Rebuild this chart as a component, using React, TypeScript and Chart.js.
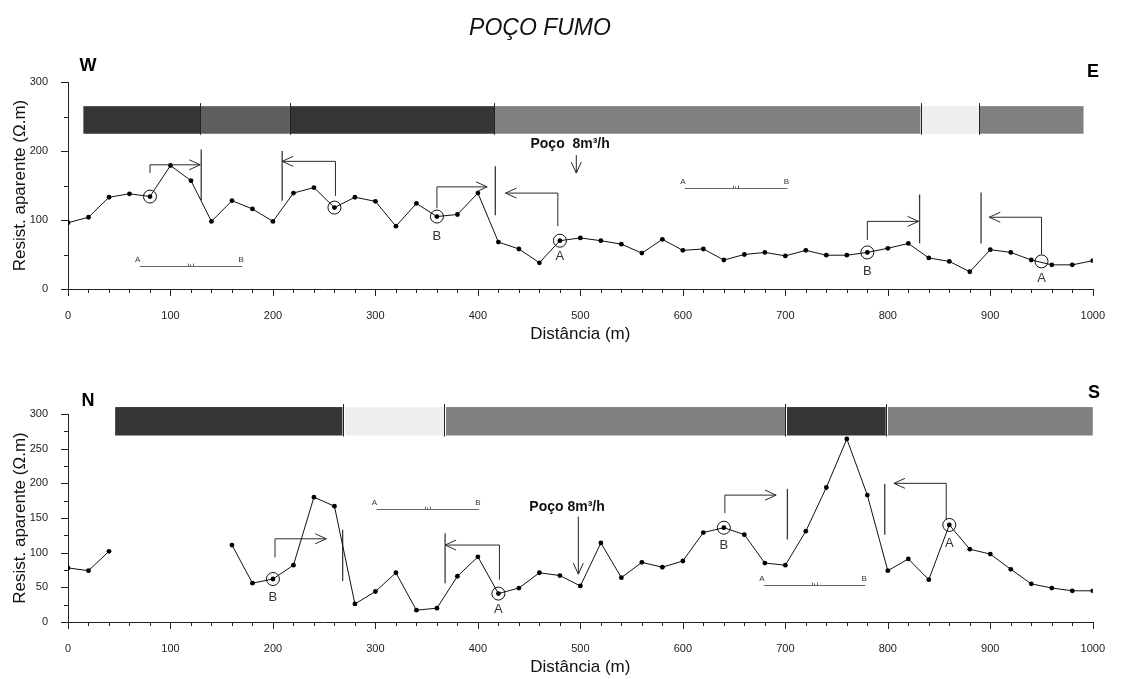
import React, { useEffect, useRef } from 'react';
import { Chart, registerables } from 'chart.js';
Chart.register(...registerables);

// ---------- data ----------
const distances = [0, 20, 40, 60, 80, 100, 120, 140, 160, 180, 200, 220, 240, 260, 280, 300, 320, 340, 360, 380, 400, 420, 440, 460, 480, 500, 520, 540, 560, 580, 600, 620, 640, 660, 680, 700, 720, 740, 760, 780, 800, 820, 840, 860, 880, 900, 920, 940, 960, 980, 1000];

const weResist = [96, 104, 133, 138, 134, 179, 157, 98, 128, 116, 98, 139, 147, 118, 133, 127, 91, 124, 105, 108, 139, 68, 58, 38, 70, 74, 70, 65, 52, 72, 56, 58, 42, 50, 53, 48, 56, 49, 49, 53, 59, 66, 45, 40, 25, 57, 53, 42, 35, 35, 41];
const nsResist = [78, 74, 102, null, null, null, null, null, 111, 56, 62, 82, 180, 167, 26, 44, 71, 17, 20, 66, 94, 41, 49, 71, 67, 52, 114, 64, 86, 79, 88, 129, 136, 126, 85, 82, 131, 194, 264, 183, 74, 91, 61, 140, 105, 98, 76, 55, 49, 45, 45];

// W–E profile annotations (metres / ohm.m)
const weGeoBreaks = [15, 129, 217, 416, 832, 889, 991];
const weGeoUnits = ['dark', 'mid', 'dark', 'gray', 'light', 'gray'];
const weCircleX = [80, 260, 360, 480, 780, 950];
const weCircleY = [134, 118, 105, 70, 53, 40];
const weLetters = ['B', 'A', 'B', 'A'];
const weLetterX = [360, 480, 780, 950];
const weLetterY = [76, 47, 25, 16];
const weArrowFrom = [80, 261, 360, 478, 780, 950];
const weArrowBase = [168, 135, 117, 91, 71, 50];
const weArrowLevel = [180, 185, 148, 139, 98, 104];
const weArrowTo = [129, 209, 409, 427, 830, 899];
const weFaultX = [130, 209, 417, 831, 891];
const weFaultLow = [129, 128, 107, 66, 66];
const weFaultHigh = [202, 200, 178, 137, 140];
const weScaleStart = [70, 602];
const weScaleEnd = [170, 702];
const weScaleY = [34, 147];

// N–S profile annotations
const nsGeoBreaks = [46, 268, 367, 700, 798, 1000];
const nsGeoUnits = ['dark', 'light', 'gray', 'dark', 'gray'];
const nsCircleX = [200, 420, 640, 860];
const nsCircleY = [62, 41, 136, 140];
const nsLetters = ['B', 'A', 'B', 'A'];
const nsLetterX = [200, 420, 640, 860];
const nsLetterY = [35, 18, 111, 113];
const nsArrowFrom = [202, 421, 641, 857];
const nsArrowBase = [93, 61, 157, 147];
const nsArrowLevel = [120, 111, 183, 200];
const nsArrowTo = [252, 368, 691, 806];
const nsFaultX = [268, 368, 702, 797];
const nsFaultLow = [59, 56, 119, 126];
const nsFaultHigh = [133, 128, 192, 199];
const nsScaleStart = [301, 679];
const nsScaleEnd = [401, 778];
const nsScaleY = [163, 53];

const shades: Record<string, string> = { dark: '#353535', mid: '#5e5e5e', gray: '#808080', light: '#efefef' };
const FONT = "'Liberation Sans', Arial, Helvetica, sans-serif";

const weProfile = {
  values: weResist, yMax: 300, yStep: 50, yLabelStep: 100,
  geoBreaks: weGeoBreaks, geoUnits: weGeoUnits, geoLow: 225, geoHigh: 265, sepGap: false,
  circleX: weCircleX, circleY: weCircleY,
  letters: weLetters, letterX: weLetterX, letterY: weLetterY,
  arrowFrom: weArrowFrom, arrowBase: weArrowBase, arrowLevel: weArrowLevel, arrowTo: weArrowTo,
  faultX: weFaultX, faultLow: weFaultLow, faultHigh: weFaultHigh,
  scaleStart: weScaleStart, scaleEnd: weScaleEnd, scaleY: weScaleY,
  wellText: 'Poço  8m³/h', wellTextX: 490, wellTextY: 210, wellArrowX: 496, wellArrowTop: 194, wellArrowBottom: 168,
  leftTag: 'W', rightTag: 'E',
};
const nsProfile = {
  values: nsResist, yMax: 300, yStep: 25, yLabelStep: 50,
  geoBreaks: nsGeoBreaks, geoUnits: nsGeoUnits, geoLow: 269, geoHigh: 310, sepGap: true,
  circleX: nsCircleX, circleY: nsCircleY,
  letters: nsLetters, letterX: nsLetterX, letterY: nsLetterY,
  arrowFrom: nsArrowFrom, arrowBase: nsArrowBase, arrowLevel: nsArrowLevel, arrowTo: nsArrowTo,
  faultX: nsFaultX, faultLow: nsFaultLow, faultHigh: nsFaultHigh,
  scaleStart: nsScaleStart, scaleEnd: nsScaleEnd, scaleY: nsScaleY,
  wellText: 'Poço 8m³/h', wellTextX: 487, wellTextY: 166, wellArrowX: 498, wellArrowTop: 152, wellArrowBottom: 69,
  leftTag: 'N', rightTag: 'S',
};

// ---------- layout ----------
const topLayout = { top: 0, h: 350, padTop: 82, xAxisH: 61, xTickPad: 20, xTitlePad: 5, leftTagPos: [88, 66], rightTagPos: [1093, 72], title: true };
const botLayout = { top: 350, h: 329, padTop: 64, xAxisH: 57, xTickPad: 20, xTitlePad: 1, leftTagPos: [88, 51], rightTagPos: [1094, 43], title: false };

function line(ctx: CanvasRenderingContext2D, x0: number, y0: number, x1: number, y1: number) {
  ctx.beginPath();
  ctx.moveTo(x0, y0);
  ctx.lineTo(x1, y1);
  ctx.stroke();
}

function arrowHead(ctx: CanvasRenderingContext2D, x: number, y: number, dx: number, dy: number) {
  const L = 11, W = 5;
  const bx = x - dx * L, by = y - dy * L;
  const px = -dy, py = dx;
  ctx.beginPath();
  ctx.moveTo(bx + px * W, by + py * W);
  ctx.lineTo(x, y);
  ctx.lineTo(bx - px * W, by - py * W);
  ctx.stroke();
}

function makeOverlay(p: any, lay: any) {
  return {
    id: 'profileOverlay',
    beforeDatasetsDraw(chart: any) {
      const { ctx } = chart;
      const xs = chart.scales.x, ys = chart.scales.y;
      ctx.save();
      const yt = ys.getPixelForValue(p.geoHigh), yb = ys.getPixelForValue(p.geoLow);
      for (let i = 0; i < p.geoUnits.length; i++) {
        const x0 = xs.getPixelForValue(p.geoBreaks[i]);
        const x1 = xs.getPixelForValue(p.geoBreaks[i + 1]);
        ctx.fillStyle = shades[p.geoUnits[i]];
        ctx.fillRect(x0, yt, x1 - x0, yb - yt);
      }
      ctx.lineWidth = 1;
      for (let i = 1; i < p.geoBreaks.length - 1; i++) {
        const bx = Math.round(xs.getPixelForValue(p.geoBreaks[i])) + 0.5;
        if (p.sepGap) {
          ctx.strokeStyle = '#ffffff';
          line(ctx, bx + 1, yt, bx + 1, yb);
        }
        ctx.strokeStyle = '#222';
        line(ctx, bx, yt - 3, bx, yb + 1);
      }
      // fault lines
      ctx.strokeStyle = '#3a3a3a';
      ctx.lineWidth = 1.3;
      for (let i = 0; i < p.faultX.length; i++) {
        const fx = xs.getPixelForValue(p.faultX[i]);
        line(ctx, fx, ys.getPixelForValue(p.faultLow[i]), fx, ys.getPixelForValue(p.faultHigh[i]));
      }
      // scale bars
      ctx.strokeStyle = '#666';
      ctx.lineWidth = 1;
      ctx.fillStyle = '#333';
      ctx.font = `8px ${FONT}`;
      ctx.textAlign = 'center';
      ctx.textBaseline = 'middle';
      for (let i = 0; i < p.scaleStart.length; i++) {
        const x0 = xs.getPixelForValue(p.scaleStart[i]);
        const x1 = xs.getPixelForValue(p.scaleEnd[i]);
        const sy = Math.round(ys.getPixelForValue(p.scaleY[i])) + 0.5;
        line(ctx, x0, sy, x1, sy);
        const mid = Math.round((x0 + x1) / 2) + 0.5;
        line(ctx, mid - 3, sy, mid - 3, sy - 3);
        line(ctx, mid - 1, sy, mid - 1, sy - 2);
        line(ctx, mid + 2, sy, mid + 2, sy - 3);
        ctx.fillText('A', x0 - 2, sy - 7);
        ctx.fillText('B', x1 - 1, sy - 7);
      }
      ctx.restore();
    },
    afterDatasetsDraw(chart: any) {
      const { ctx } = chart;
      const xs = chart.scales.x, ys = chart.scales.y;
      ctx.save();
      // circles
      ctx.strokeStyle = '#111';
      ctx.lineWidth = 1;
      for (let i = 0; i < p.circleX.length; i++) {
        ctx.beginPath();
        ctx.arc(xs.getPixelForValue(p.circleX[i]), ys.getPixelForValue(p.circleY[i]), 6.5, 0, Math.PI * 2);
        ctx.stroke();
      }
      // electrode-shift arrows
      ctx.strokeStyle = '#2a2a2a';
      for (let i = 0; i < p.arrowFrom.length; i++) {
        const x0 = xs.getPixelForValue(p.arrowFrom[i]);
        const x1 = xs.getPixelForValue(p.arrowTo[i]);
        const yb = ys.getPixelForValue(p.arrowBase[i]);
        const yl = ys.getPixelForValue(p.arrowLevel[i]);
        ctx.beginPath();
        ctx.moveTo(x0, yb);
        ctx.lineTo(x0, yl);
        ctx.lineTo(x1, yl);
        ctx.stroke();
        arrowHead(ctx, x1, yl, x1 > x0 ? 1 : -1, 0);
      }
      // A / B letters
      ctx.fillStyle = '#333';
      ctx.font = `13px ${FONT}`;
      ctx.textAlign = 'center';
      ctx.textBaseline = 'middle';
      for (let i = 0; i < p.letters.length; i++) {
        ctx.fillText(p.letters[i], xs.getPixelForValue(p.letterX[i]), ys.getPixelForValue(p.letterY[i]));
      }
      // well label and arrow
      ctx.fillStyle = '#111';
      ctx.font = `bold 14px ${FONT}`;
      ctx.fillText(p.wellText, xs.getPixelForValue(p.wellTextX), ys.getPixelForValue(p.wellTextY));
      ctx.strokeStyle = '#222';
      const wx = xs.getPixelForValue(p.wellArrowX);
      const wyb = ys.getPixelForValue(p.wellArrowBottom);
      line(ctx, wx, ys.getPixelForValue(p.wellArrowTop), wx, wyb);
      arrowHead(ctx, wx, wyb, 0, 1);
      ctx.restore();
    },
    afterDraw(chart: any) {
      const { ctx } = chart;
      const xs = chart.scales.x, ys = chart.scales.y;
      ctx.save();
      ctx.strokeStyle = '#222';
      ctx.lineWidth = 1;
      for (const t of xs.ticks) {
        const px = Math.round(xs.getPixelForValue(t.value)) + 0.5;
        const len = t.value % 100 === 0 ? 7 : 4;
        line(ctx, px, xs.top, px, xs.top + len);
      }
      for (const t of ys.ticks) {
        const py = Math.round(ys.getPixelForValue(t.value)) + 0.5;
        const len = t.value % p.yLabelStep === 0 ? 7 : 4;
        line(ctx, ys.right, py, ys.right - len, py);
      }
      // profile direction tags
      ctx.fillStyle = '#000';
      ctx.font = `bold 18px ${FONT}`;
      ctx.textAlign = 'center';
      ctx.textBaseline = 'middle';
      ctx.fillText(p.leftTag, lay.leftTagPos[0], lay.leftTagPos[1]);
      ctx.fillText(p.rightTag, lay.rightTagPos[0], lay.rightTagPos[1]);
      if (lay.title) {
        ctx.font = `italic 23px ${FONT}`;
        ctx.fillStyle = '#111';
        ctx.fillText('POÇO FUMO', 540, 29);
      }
      ctx.restore();
    },
  };
}

function ProfileChart({ p, lay }: { p: any; lay: any }) {
  const ref = useRef<HTMLCanvasElement>(null);
  useEffect(() => {
    const chart = new Chart(ref.current as HTMLCanvasElement, {
      type: 'line',
      data: {
        datasets: [{
          data: distances.map((d, i) => ({ x: d, y: p.values[i] })) as any,
          borderColor: '#111',
          borderWidth: 1,
          pointRadius: 2.4,
          pointHoverRadius: 2.4,
          pointBackgroundColor: '#000',
          pointBorderWidth: 0,
          spanGaps: false,
          tension: 0,
        }],
      },
      options: {
        animation: false,
        responsive: false,
        maintainAspectRatio: false,
        events: [],
        layout: { padding: { top: lay.padTop, right: 22, bottom: 0, left: 0 } },
        plugins: { legend: { display: false }, tooltip: { enabled: false } },
        scales: {
          x: {
            type: 'linear', min: 0, max: 1000,
            grid: { display: false, drawTicks: false },
            border: { display: true, color: '#222', width: 1 },
            ticks: {
              stepSize: 20, autoSkip: false, maxRotation: 0, padding: lay.xTickPad, color: '#222',
              font: { family: FONT, size: 11 },
              callback: (v: any) => (Number(v) % 100 === 0 ? String(v) : ''),
            },
            title: { display: true, text: 'Distância (m)', color: '#111', font: { family: FONT, size: 17 }, padding: { top: 0, bottom: lay.xTitlePad } },
            afterFit: (s: any) => { s.height = lay.xAxisH; },
          },
          y: {
            type: 'linear', min: 0, max: p.yMax,
            grid: { display: false, drawTicks: false },
            border: { display: true, color: '#222', width: 1 },
            ticks: {
              stepSize: p.yStep, autoSkip: false, padding: 20, color: '#222',
              font: { family: FONT, size: 11 },
              callback: (v: any) => (Number(v) % p.yLabelStep === 0 ? String(v) : ''),
            },
            title: { display: true, text: 'Resist. aparente (Ω.m)', color: '#111', font: { family: FONT, size: 17 }, padding: { top: 10, bottom: 0 } },
            afterFit: (s: any) => { s.width = 68; },
          },
        },
      } as any,
      plugins: [makeOverlay(p, lay)],
    });
    return () => chart.destroy();
  }, []);
  return (
    <canvas
      ref={ref}
      width={1125}
      height={lay.h}
      style={{ position: 'absolute', left: 0, top: lay.top, width: 1125, height: lay.h, display: 'block' }}
    />
  );
}

export default function App() {
  return (
    <div style={{ position: 'fixed', left: 0, top: 0, width: 1125, height: 679, background: '#fff', overflow: 'hidden' }}>
      <ProfileChart p={weProfile} lay={topLayout} />
      <ProfileChart p={nsProfile} lay={botLayout} />
    </div>
  );
}
